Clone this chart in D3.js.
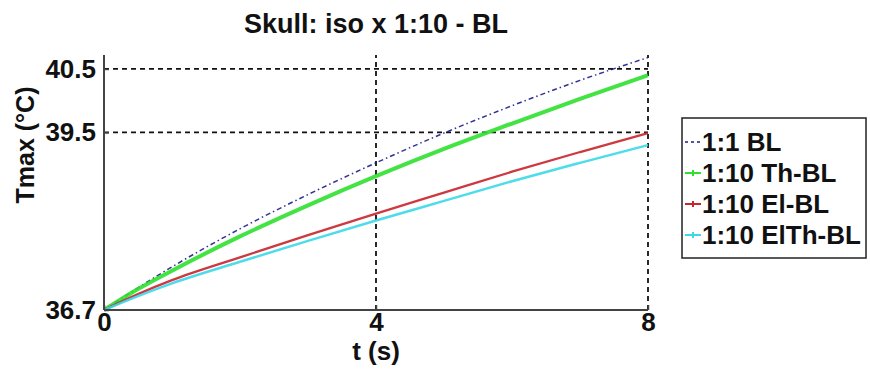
<!DOCTYPE html>
<html>
<head>
<meta charset="utf-8">
<script src="https://cdn.jsdelivr.net/npm/d3@7"></script>
<style>
  body { margin: 0; background: #fff; }
  text { font-family: "Liberation Sans", Arial, sans-serif; font-weight: bold; fill: #111; }
</style>
</head>
<body>
<svg id="chart" width="870" height="369"></svg>
<script>
// Time points (s) and Tmax (°C)
const times = [0, 0.5, 1, 2, 3, 4, 5, 6, 7, 8];
const bl11 = [36.7, 37.05, 37.38, 37.98, 38.52, 39.02, 39.49, 39.92, 40.32, 40.68];
const thBL = [36.7, 37.03, 37.32, 37.86, 38.35, 38.81, 39.24, 39.64, 40.03, 40.40];
const elBL = [36.7, 36.95, 37.17, 37.53, 37.88, 38.22, 38.55, 38.88, 39.19, 39.49];
const elThBL = [36.7, 36.92, 37.12, 37.46, 37.79, 38.11, 38.42, 38.73, 39.02, 39.30];

const seriesNames = ["1:1 BL", "1:10 Th-BL", "1:10 El-BL", "1:10 ElTh-BL"];
const xTicks = [0, 4, 8];
const yTicks = [36.7, 39.5, 40.5];

const series = [
    { name: seriesNames[0], values: bl11, color: "#1c1c88", width: 1.5, dash: "5,3,1.5,3" },
    { name: seriesNames[1], values: thBL, color: "#2fe02f", width: 4, dash: null },
    { name: seriesNames[2], values: elBL, color: "#c8242c", width: 2.3, dash: null },
    { name: seriesNames[3], values: elThBL, color: "#3ad8e8", width: 2.5, dash: null }
];

const svg = d3.select("#chart");
const plotLeft = 104, plotRight = 648, plotTop = 55, plotBottom = 310;

const xScale = d3.scaleLinear().domain([0, 8]).range([plotLeft, plotRight]);
const yScale = d3.scaleLinear().domain([36.7, 40.72]).range([plotBottom, plotTop]);

// Grid lines (dashed)
const grid = svg.append("g");
grid.selectAll("line.h")
    .data(yTicks.slice(1))
    .join("line")
    .attr("class", "h")
    .attr("x1", plotLeft).attr("x2", plotRight)
    .attr("y1", d => yScale(d)).attr("y2", d => yScale(d))
    .attr("stroke", "#111").attr("stroke-width", 1.8)
    .attr("stroke-dasharray", "5,4");
grid.selectAll("line.v")
    .data(xTicks.slice(1))
    .join("line")
    .attr("class", "v")
    .attr("x1", d => xScale(d)).attr("x2", d => xScale(d))
    .attr("y1", plotBottom).attr("y2", plotTop)
    .attr("stroke", "#111").attr("stroke-width", 1.8)
    .attr("stroke-dasharray", "5,4");

// Lines
const line = d3.line()
    .x((d, i) => xScale(times[i]))
    .y(d => yScale(d))
    .curve(d3.curveMonotoneX);

svg.append("g").selectAll("path")
    .data(series)
    .join("path")
    .attr("d", d => line(d.values))
    .attr("fill", "none")
    .attr("stroke", d => d.color)
    .attr("stroke-width", d => d.width)
    .attr("stroke-dasharray", d => d.dash)
    .attr("opacity", 0.9);

// Axes
const xAxis = d3.axisBottom(xScale).tickValues(xTicks).tickSize(-5).tickPadding(2).tickFormat(d3.format("d"));
const yAxis = d3.axisLeft(yScale).tickValues(yTicks).tickSize(-5).tickPadding(8).tickFormat(d3.format(".1f"));

const gx = svg.append("g").attr("transform", `translate(0,${plotBottom})`).call(xAxis);
const gy = svg.append("g").attr("transform", `translate(${plotLeft},0)`).call(yAxis);
[gx, gy].forEach(g => {
    g.select(".domain").attr("stroke", "#444").attr("stroke-width", 2);
    g.selectAll(".tick line").attr("stroke", "#444").attr("stroke-width", 1.5);
    g.selectAll(".tick text").style("font-size", "26px").style("font-weight", "bold")
        .style("font-family", "'Liberation Sans', Arial, sans-serif").attr("fill", "#111");
});
gx.select(".domain").attr("d", `M${plotLeft},0H${plotRight}`);
gy.select(".domain").attr("d", `M0,${plotBottom}V${plotTop}`);
gx.selectAll(".tick text").attr("dy", "0.72em");

// Title and axis labels
svg.append("text")
    .text("Skull: iso x 1:10 - BL")
    .attr("x", (plotLeft + plotRight) / 2).attr("y", 33)
    .attr("text-anchor", "middle")
    .style("font-size", "27px");

svg.append("text")
    .text("t (s)")
    .attr("x", (plotLeft + plotRight) / 2).attr("y", 360)
    .attr("text-anchor", "middle")
    .style("font-size", "26px");

svg.append("text")
    .text("Tmax (°C)")
    .attr("transform", `translate(34,145) rotate(-90)`)
    .attr("text-anchor", "middle")
    .style("font-size", "25px");

// Legend
const legend = svg.append("g").attr("transform", "translate(682,118)");
legend.append("rect")
    .attr("width", 184).attr("height", 140)
    .attr("fill", "#fff").attr("stroke", "#222").attr("stroke-width", 1.5);

const item = legend.selectAll("g.item")
    .data(series)
    .join("g")
    .attr("class", "item")
    .attr("transform", (d, i) => `translate(0,${24 + i * 31})`);
item.append("line")
    .attr("x1", 3).attr("x2", 19)
    .attr("stroke", d => d.color)
    .attr("stroke-width", d => Math.min(d.width, 2))
    .attr("stroke-dasharray", (d, i) => i === 0 ? "3,3" : null);
item.filter((d, i) => i > 0).append("path")
    .attr("transform", "translate(11,0)")
    .attr("d", d3.symbol(d3.symbolCross, 20)())
    .attr("fill", d => d.color);
item.append("text")
    .text(d => d.name)
    .attr("x", 20).attr("dy", "0.36em")
    .style("font-size", "26px");
</script>
</body>
</html>
